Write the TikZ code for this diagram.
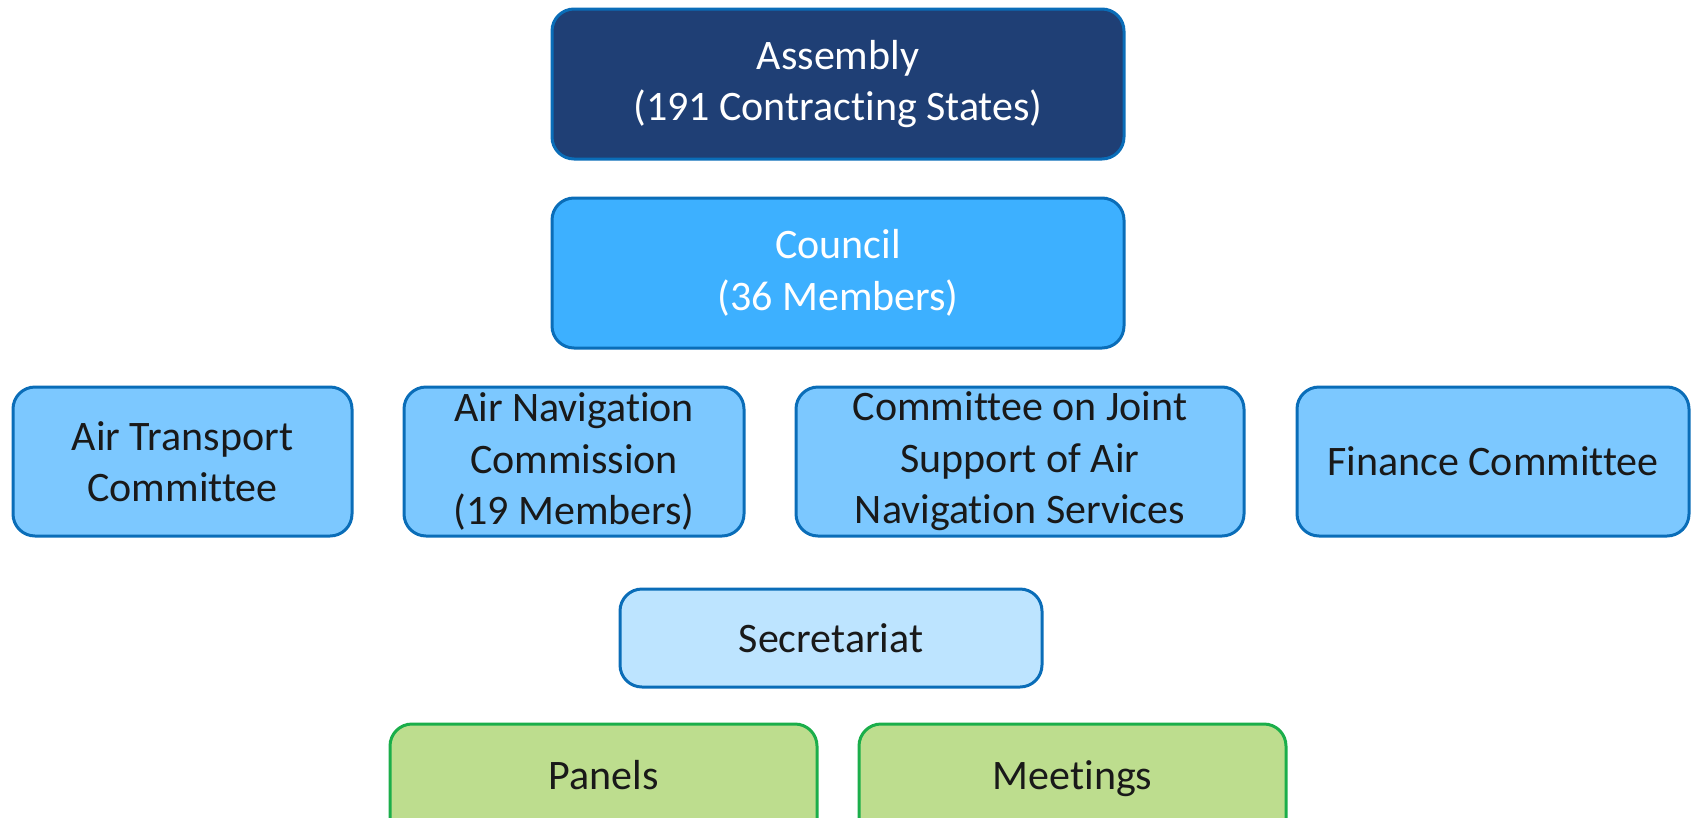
\documentclass[tikz,border=0pt]{standalone}
\usepackage{fontspec}
\setmainfont[Ligatures={NoCommon}]{Carlito}
\definecolor{navy}{HTML}{1F3F75}
\definecolor{edgeblue}{HTML}{0A6DB8}
\definecolor{council}{HTML}{3DB0FF}
\definecolor{midblue}{HTML}{7CC8FF}
\definecolor{paleblue}{HTML}{BDE4FF}
\definecolor{greenfill}{HTML}{BDDD8E}
\definecolor{greenedge}{HTML}{1BAE4A}
\tikzset{
  box/.style={draw=edgeblue, line width=3pt, rounded corners=22pt, align=center,
    inner sep=0pt, font=\fontsize{42}{51.5}\selectfont, text=black!90},
  topbox/.style={box, fill=navy, text=white},
  councilbox/.style={box, fill=council, text=white},
  combox/.style={box, fill=midblue},
  secbox/.style={box, fill=paleblue},
  greenbox/.style={box, draw=greenedge, fill=greenfill},
  label/.style={font=\fontsize{42}{51.5}\selectfont, text=black!90, anchor=base, inner sep=0pt}
}
\begin{document}
\begin{tikzpicture}[x=1pt,y=-1pt]
\useasboundingbox (0,0) rectangle (1694,817);
\clip (0,0) rectangle (1694,817);
\node[topbox, minimum width=572pt, minimum height=150pt] (assembly) at (838,84) {Assembly\\(191 Contracting States)};
\node[councilbox, minimum width=572pt, minimum height=150pt] (council) at (838,273) {Council\\(36 Members)};
\node[combox, minimum width=339pt, minimum height=149pt] (atc) at (182.5,461.5) {Air Transport\\Committee};
\node[combox, minimum width=340pt, minimum height=149pt] (anc) at (574,461.5) {Air Navigation\\Commission\\(19 Members)};
\node[combox, minimum width=448pt, minimum height=149pt] (jsc) at (1020,461.5) {Committee on Joint\\Support of Air\\Navigation Services};
\node[combox, minimum width=392pt, minimum height=149pt] (fin) at (1493,461.5) {Finance Committee};
\node[secbox, minimum width=422pt, minimum height=98pt] (sec) at (831,638) {Secretariat};
\node[greenbox, minimum width=427pt, minimum height=130pt] (panels) at (603.5,789) {};
\node[greenbox, minimum width=427pt, minimum height=130pt] (meetings) at (1072.5,789) {};
\node[label] (panelstext) at (603.5,789) {Panels};
\node[label] (meetingstext) at (1072.5,789) {Meetings};
\end{tikzpicture}
\end{document}
